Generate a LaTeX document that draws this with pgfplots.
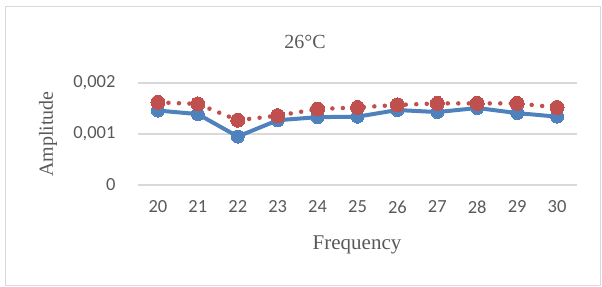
\documentclass[border=0pt]{standalone}
\usepackage{fontspec}
\setmainfont{Liberation Serif}
\newfontfamily\calibri{Carlito}
\usepackage{pgfplots}
\pgfplotsset{compat=1.18}
\definecolor{xblue}{HTML}{4F81BD}
\definecolor{xred}{HTML}{C0504D}
\definecolor{xgrid}{HTML}{D9D9D9}
\definecolor{xtext}{HTML}{595959}
\begin{document}
\begin{tikzpicture}
\path[use as bounding box] (-138bp,-102bp) rectangle (464bp,185bp);
\draw[xgrid, line width=1bp] (-132bp,-100bp) rectangle (462bp,178bp);
\begin{axis}[
  at={(0,0)}, anchor=south west,
  scale only axis, width=439bp, height=102bp,
  xmin=19.5, xmax=30.5, ymin=0, ymax=0.002,
  xtick={20,21,...,30},
  ytick={0,0.001,0.002},
  scaled y ticks=false,
  /pgf/number format/assume math mode=true,
  axis line style={draw=none},
  major tick length=0pt,
  ymajorgrids, grid style={xgrid, line width=1.2bp},
  tick label style={font=\calibri\fontsize{18.5bp}{20bp}\selectfont, text=xtext},
  yticklabel style={anchor=east, xshift=-19bp, /pgf/number format/.cd, fixed, precision=3, use comma},
  xticklabel style={anchor=north, yshift=-12bp},
  clip=false,
]
\addplot[xblue, line width=4bp, line join=round, mark=*, mark size=6.5bp, mark options={solid, fill=xblue, draw=xblue, line width=0pt}]
coordinates {(20,0.00146) (21,0.00139) (22,0.00095) (23,0.00127) (24,0.00133) (25,0.00134) (26,0.00147) (27,0.00143) (28,0.00151) (29,0.00141) (30,0.00134)};
\addplot[xred, line width=4.5bp, line cap=round, dash pattern=on 0bp off 10.5bp, mark=*, mark size=7bp, mark options={solid, fill=xred, draw=xred, line width=0pt}]
coordinates {(20,0.00162) (21,0.00159) (22,0.00127) (23,0.00136) (24,0.00149) (25,0.00152) (26,0.00157) (27,0.00160) (28,0.00160) (29,0.00160) (30,0.00152)};
\end{axis}
\node[text=xtext, font=\fontsize{20bp}{22bp}\selectfont] at (167bp,143bp) {26°C};
\node[text=xtext, font=\fontsize{20bp}{22bp}\selectfont, rotate=90] at (-90bp,51bp) {Amplitude};
\node[text=xtext, font=\fontsize{21bp}{23bp}\selectfont] at (219bp,-60bp) {Frequency};
\end{tikzpicture}
\end{document}
